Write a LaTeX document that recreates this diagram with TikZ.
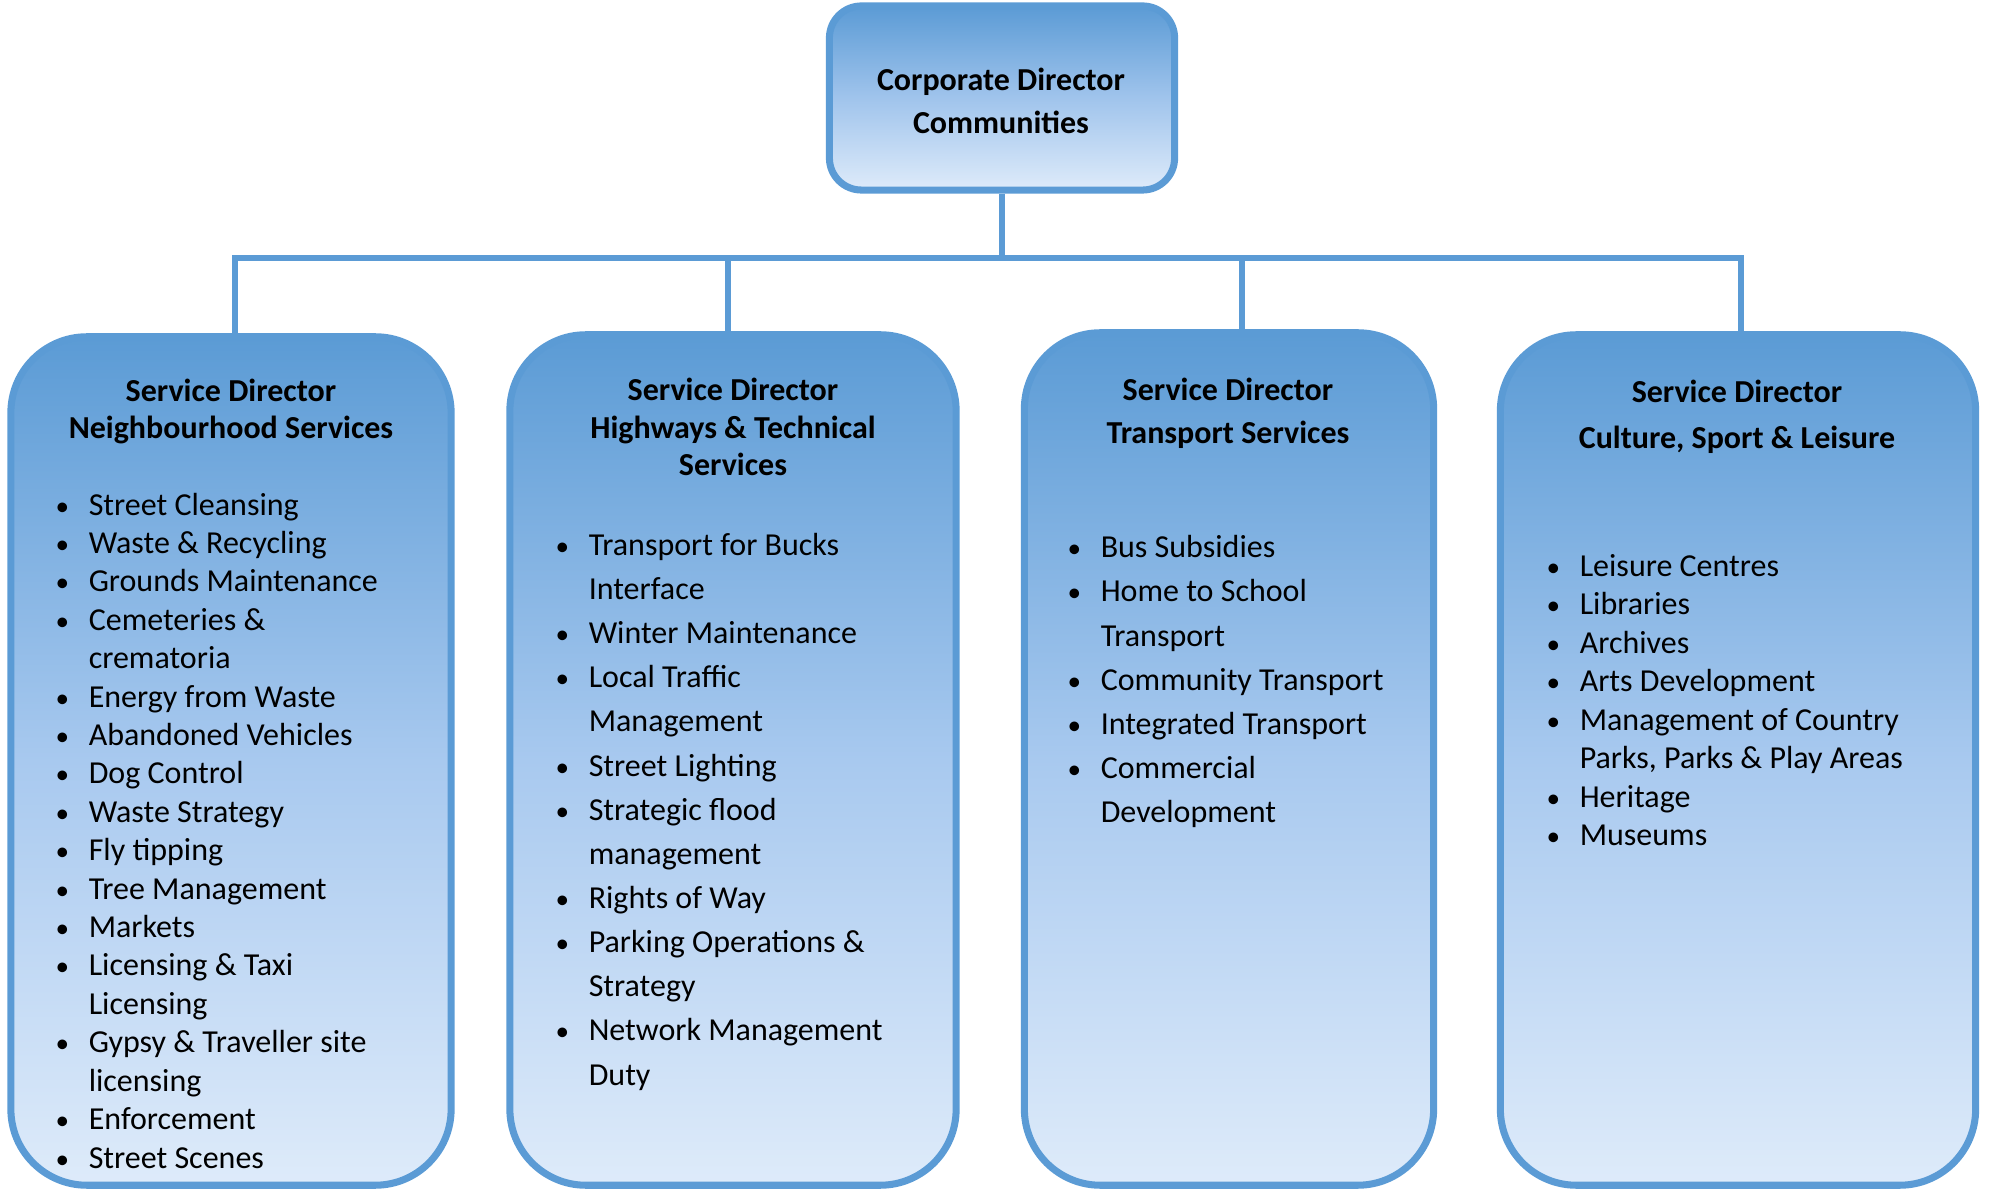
\documentclass[tikz,border=0pt]{standalone}
\usepackage{fontspec}
\setmainfont{Carlito}
\usepackage{xcolor}
\usetikzlibrary{positioning}

\definecolor{bordblue}{RGB}{91,155,213}
\definecolor{midblue}{RGB}{168,201,239}
\definecolor{paleblue}{RGB}{222,235,250}

\newcommand{\bul}{\makebox[9.4pt][l]{\scalebox{0.85}{\textbullet}}}
\newcommand{\cont}{\hspace*{9.4pt}}

\begin{document}
\begin{tikzpicture}[x=0.01cm, y=-0.01cm,
    dirbox/.style={rectangle, draw=bordblue, line width=2pt, top color=bordblue, bottom color=paleblue, middle color=midblue},
    title/.style={anchor=base, align=center, inner sep=0pt, font=\bfseries\fontsize{9.1}{#1}\selectfont},
    duties/.style={anchor=base west, align=left, inner sep=0pt, font=\fontsize{9.1}{#1}\selectfont},
    link/.style={draw=bordblue, line width=1.5pt}]
    \useasboundingbox (0,0) rectangle (1991,1189);

    % Boxes
    \node[dirbox, rounded corners=0.32cm, minimum width=3.45cm, minimum height=1.84cm, top color=bordblue, bottom color=paleblue, middle color={rgb,255:red,160;green,196;blue,236}] (corp) at (1002,98) {};
    \node[dirbox, rounded corners=0.76cm, minimum width=4.40cm, minimum height=8.48cm] (nbh) at (231,761) {};
    \node[dirbox, rounded corners=0.76cm, minimum width=4.46cm, minimum height=8.50cm] (hwy) at (733,760) {};
    \node[dirbox, rounded corners=0.76cm, minimum width=4.09cm, minimum height=8.52cm] (trn) at (1229,759) {};
    \node[dirbox, rounded corners=0.76cm, minimum width=4.75cm, minimum height=8.50cm] (csl) at (1738,760) {};

    % Titles (placed by the baseline of their last line)
    \node[title=12.5pt] (corpT) at (1001,134) {Corporate Director\\Communities};
    \node[title=10.8pt] (nbhT) at (231,439) {Service Director\\Neighbourhood Services};
    \node[title=10.8pt] (hwyT) at (733,476) {Service Director\\Highways \& Technical\\Services};
    \node[title=12.5pt] (trnT) at (1228,444) {Service Director\\Transport Services};
    \node[title=13.1pt] (cslT) at (1737,449) {Service Director\\Culture, Sport \& Leisure};

    % Duties (placed by the baseline of their last line)
    \node[duties=10.92pt] (nbhL) at (55,1168) {\bul Street Cleansing\\ \bul Waste \& Recycling\\ \bul Grounds Maintenance\\
        \bul Cemeteries \&\\ \cont crematoria\\ \bul Energy from Waste\\ \bul Abandoned Vehicles\\ \bul Dog Control\\
        \bul Waste Strategy\\ \bul Fly tipping\\ \bul Tree Management\\ \bul Markets\\ \bul Licensing \& Taxi\\
        \cont Licensing\\ \bul Gypsy \& Traveller site\\ \cont licensing\\ \bul Enforcement\\ \bul Street Scenes};
    \node[duties=12.55pt] (hwyL) at (555,1085) {\bul Transport for Bucks\\ \cont Interface\\ \bul Winter Maintenance\\
        \bul Local Traffic\\ \cont Management\\ \bul Street Lighting\\ \bul Strategic flood\\ \cont management\\
        \bul Rights of Way\\ \bul Parking Operations \&\\ \cont Strategy\\ \bul Network Management\\ \cont Duty};
    \node[duties=12.58pt] (trnL) at (1067,823) {\bul Bus Subsidies\\ \bul Home to School\\ \cont Transport\\
        \bul Community Transport\\ \bul Integrated Transport\\ \bul Commercial\\ \cont Development};
    \node[duties=10.95pt] (cslL) at (1546,846) {\bul Leisure Centres\\ \bul Libraries\\ \bul Archives\\
        \bul Arts Development\\ \bul Management of Country\\ \cont Parks, Parks \& Play Areas\\ \bul Heritage\\ \bul Museums};

    % Edges
    \coordinate (bus) at (1002,258);
    \draw[link] (corp.south) -- (bus);
    \draw[link] (bus) -| ([xshift=0.04cm]nbh.north);
    \draw[link] (bus) -| ([xshift=-0.05cm]hwy.north);
    \draw[link] (bus) -| ([xshift=0.13cm]trn.north);
    \draw[link] (bus) -| ([xshift=0.03cm]csl.north);

\end{tikzpicture}
\end{document}
